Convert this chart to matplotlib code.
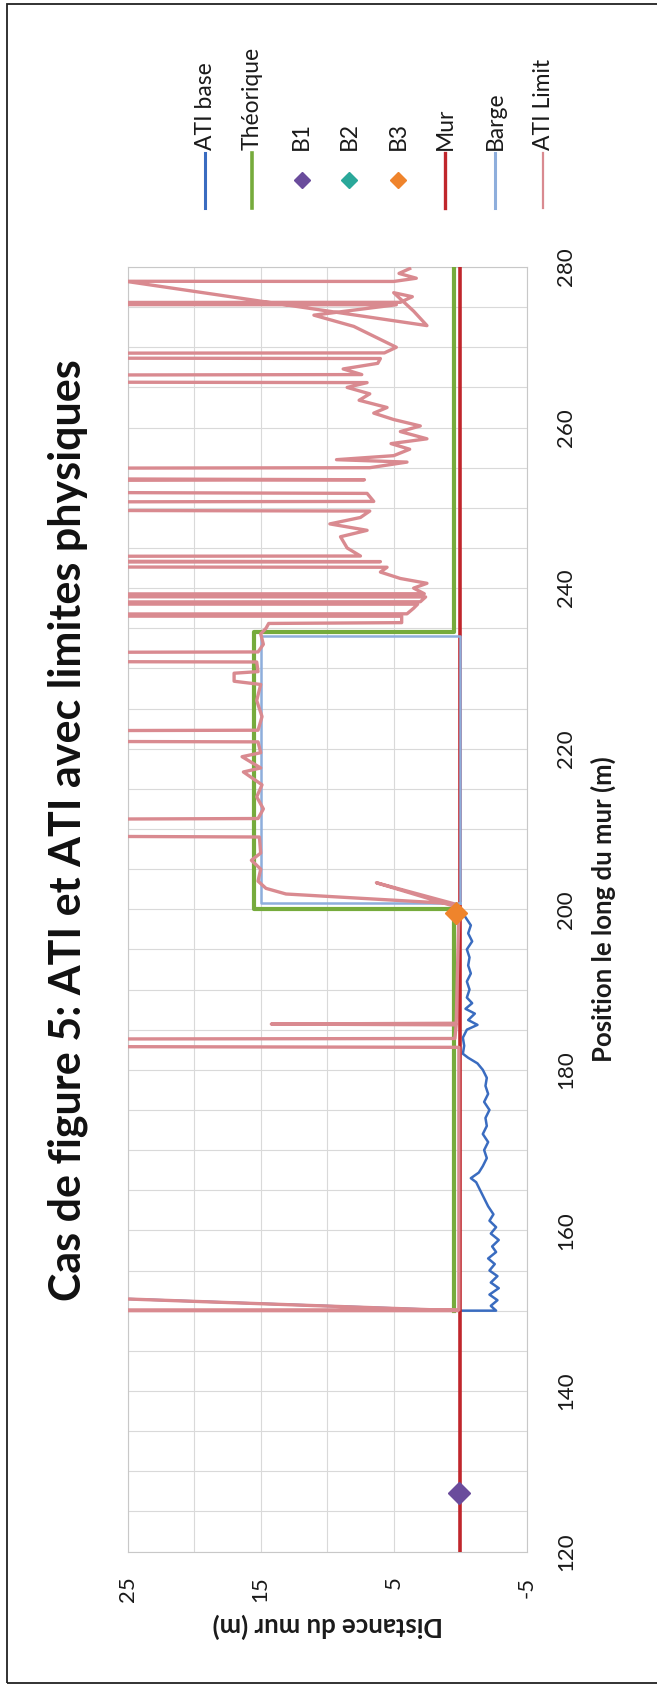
import matplotlib
matplotlib.use('Agg')
import matplotlib.pyplot as plt
from matplotlib.lines import Line2D
from matplotlib.patches import Rectangle
import numpy as np

plt.rcParams['font.family'] = ['Lato', 'DejaVu Sans']

W, H = 657, 1691

# tick labels
D_TICKS = [25, 15, 5, -5]
P_TICKS = [120, 140, 160, 180, 200, 220, 240, 260, 280]

# Mur
P_MUR = [120, 280]
D_MUR = [0, 0]

# Theorique
P_THEO = [150, 200, 200, 234.5, 234.5, 280]
D_THEO = [0.5, 0.5, 15.5, 15.5, 0.5, 0.5]

# Barge outline
P_BARGE = [200.8, 200.8, 234.0, 234.0, 200.8]
D_BARGE = [0, 15, 15, 0, 0]

# points B1, B2, B3
P_B1, D_B1 = [127.3], [0.1]
P_B2, D_B2 = [], []
P_B3, D_B3 = [199.5], [0.3]

# ATI base
P_BASE = [153.5, 150.0, 150.0, 150.6, 151.3, 152.0, 152.8, 153.5, 154.3, 155.0,
          155.8, 156.5, 157.3, 158.0, 158.8, 159.6, 160.4, 161.2, 162.0, 163.0,
          164.0, 165.0, 166.0, 166.5, 167.2, 168.0, 169.0, 170.0, 171.0, 172.0,
          173.0, 174.0, 175.0, 176.0, 177.0, 178.0, 179.0, 180.0, 180.8, 181.5,
          182.0, 183.0, 184.0, 185.0, 185.6, 186.2, 187.0, 187.6, 188.3, 189.0,
          190.0, 191.0, 192.0, 193.0, 194.0, 195.0, 196.0, 197.0, 198.0, 199.0,
          199.5]
D_BASE = [60, 0.0, -2.7, -2.3, -2.8, -2.2, -2.9, -2.3, -2.8, -2.2,
          -2.6, -2.1, -2.7, -2.4, -2.9, -2.3, -2.7, -2.2, -2.5, -2.1,
          -1.8, -1.5, -1.2, -0.8, -1.4, -1.7, -2.0, -1.8, -2.1, -1.7,
          -2.0, -1.9, -2.2, -1.8, -2.1, -1.9, -2.0, -1.7, -1.3, -0.6,
          -0.2, -0.3, -0.2, -0.5, -1.3, -0.6, -1.1, -0.4, -0.9, -0.5,
          -0.7, -0.5, -0.8, -0.6, -0.7, -0.5, -0.9, -0.6, -0.8, -0.4,
          -0.2]

# ATI Limit (200 = value outside physical limits)
P_LIMIT = [153.5, 150.0, 150.0, 150.1, 182.8, 183.45, 183.9, 185.6, 185.7, 185.8,
           199.6, 200.3, 203.3, 200.7, 201.9, 202.6, 203.5, 205.0, 206.1, 207.0,
           209.0, 210.2, 211.3, 212.5, 214.0, 215.5, 217.1, 217.6, 219.0, 219.5,
           220.85, 221.6, 222.3, 224.0, 226.0, 228.0, 228.4, 229.4, 229.6, 230.8,
           231.4, 232.05, 233.0, 234.3, 235.0, 235.6, 235.7, 236.5, 236.6, 236.8,
           237.5, 238.0, 238.1, 238.3, 238.9, 239.1, 239.3, 240.0, 240.6, 241.2,
           242.0, 242.6, 242.85, 243.3, 243.7, 244.0, 245.0, 246.4, 247.2, 248.0,
           248.8, 249.6, 250.3, 250.8, 251.8, 252.8, 253.5, 254.5, 255.0, 255.7,
           256.0, 256.5, 257.3, 258.0, 258.6, 259.5, 260.2, 261.0, 261.8, 262.5,
           263.4, 264.2, 265.0, 265.6, 266.1, 266.6, 267.3, 268.0, 268.6, 269.0,
           269.3, 270.0, 272.6, 274.0, 275.3, 275.45, 275.6, 276.3, 276.8, 274.5,
           272.7, 279.4, 278.4, 278.2, 278.6, 279.2, 279.8]
D_LIMIT = [60, 0.2, 200, 0.1, 0.1, 200, 0.4, 0.3, 14.2, 0.3,
           0.1, 0.3, 6.3, 0.5, 13.1, 14.6, 15.2, 15.0, 15.7, 15.0,
           15.1, 200, 15.2, 14.8, 15.3, 14.9, 16.3, 15.0, 16.4, 15.0,
           15.2, 200, 15.2, 14.9, 15.3, 15.0, 17.0, 17.0, 15.2, 15.3,
           200, 15.2, 14.8, 15.0, 14.6, 14.4, 4.4, 4.4, 200, 4.0,
           3.5, 3.2, 200, 3.0, 2.6, 200, 2.7, 3.5, 2.5, 4.5,
           6.0, 5.5, 200, 6.0, 200, 7.5, 8.5, 9.0, 7.0, 9.8,
           7.5, 6.8, 200, 6.5, 7.0, 200, 7.2, 200, 6.8, 4.0,
           9.3, 5.0, 3.8, 5.2, 2.5, 4.5, 3.0, 5.0, 6.5, 5.5,
           7.6, 6.8, 8.5, 7.0, 200, 7.4, 8.8, 6.2, 6.0, 200,
           5.7, 4.8, 8.0, 11.0, 4.8, 200, 4.5, 3.6, 5.0, 3.5,
           2.5, 30, 200, 5.0, 3.3, 4.6, 3.8]

LEGEND_LABELS = ['ATI base', 'Théorique', 'B1', 'B2', 'B3', 'Mur', 'Barge', 'ATI Limit']

C_BASE = '#3a6cc0'
C_THEO = '#76ab3c'
C_B1 = '#6a4c9c'
C_B2 = '#2aa89a'
C_B3 = '#ef842c'
C_MUR = '#c0262c'
C_BARGE = '#8eaedc'
C_LIMIT = '#d98a90'

fig = plt.figure(figsize=(W / 100, H / 100), dpi=100)
fig.patch.set_facecolor('white')

# axes placed like the rotated excel chart: distance across, position up
ax = fig.add_axes([127.7 / W, 1 - 1551.5 / H, 399.0 / W, 1284.5 / H])

ax.plot(D_BASE, P_BASE, color=C_BASE, lw=1.8, zorder=2)
ax.plot(D_THEO, P_THEO, color=C_THEO, lw=3.0, zorder=3)
ax.plot(D_MUR, P_MUR, color=C_MUR, lw=2.6, zorder=5)
ax.plot(D_BARGE, P_BARGE, color=C_BARGE, lw=1.8, zorder=6)
ax.plot(D_LIMIT, P_LIMIT, color=C_LIMIT, lw=2.4, zorder=7)
ax.plot(D_B1, P_B1, 'D', color=C_B1, ms=11, zorder=8)
ax.plot(D_B2, P_B2, 'D', color=C_B2, ms=11, zorder=8)
ax.plot(D_B3, P_B3, 'D', color=C_B3, ms=11, zorder=8)

ax.set_xlim(25, -5)
ax.set_ylim(120, 280)
ax.set_xticks(D_TICKS)
ax.set_xticks(np.arange(-5, 26, 5), minor=True)
ax.set_yticks(P_TICKS)
ax.set_yticks(np.arange(120, 281, 5), minor=True)
ax.set_xticklabels([str(v) for v in D_TICKS], rotation=90, fontsize=16, color='#1a1a1a')
ax.set_yticklabels([str(v) for v in P_TICKS], rotation=90, fontsize=16, color='#1a1a1a', va='center')
ax.yaxis.tick_right()
ax.tick_params(axis='both', which='both', length=0)
ax.tick_params(axis='x', pad=18)
ax.tick_params(axis='y', pad=21)
ax.grid(True, which='both', color='#d9d9d9', lw=0.8)
ax.set_axisbelow(True)
for s in ax.spines.values():
    s.set_color('#c8c8c8')
    s.set_linewidth(0.8)

# texts
fig.text(68 / W, 1 - 830 / H, 'Cas de figure 5: ATI et ATI avec limites physiques',
         rotation=90, ha='center', va='center', fontsize=31, fontweight='bold', color='#111111')
fig.text(328 / W, 1 - 1626 / H, 'Distance du mur (m)', rotation=180,
         ha='center', va='center', fontsize=18.5, fontweight='bold', color='#1a1a1a')
fig.text(603 / W, 1 - 909 / H, 'Position le long du mur (m)', rotation=90,
         ha='center', va='center', fontsize=18.5, fontweight='bold', color='#1a1a1a')

# legend drawn as a vertical (rotated) column row
leg_x = [205, 251.7, 301.7, 349.3, 398.3, 445, 495, 543.3]
leg_style = [(C_BASE, 2.2, None), (C_THEO, 2.6, None), (C_B1, 0, 'D'), (C_B2, 0, 'D'),
             (C_B3, 0, 'D'), (C_MUR, 2.4, None), (C_BARGE, 2.2, None), (C_LIMIT, 1.6, None)]
for lab, x, (c, lw, mk) in zip(LEGEND_LABELS, leg_x, leg_style):
    xf = x / W
    if mk is None:
        fig.add_artist(Line2D([xf, xf], [1 - 153 / H, 1 - 208 / H], color=c, lw=lw,
                              transform=fig.transFigure))
    else:
        fig.add_artist(Line2D([xf], [1 - 180 / H], marker=mk, color=c, ms=8,
                              transform=fig.transFigure))
    fig.text(xf, 1 - 150 / H, lab, rotation=90, rotation_mode='anchor',
             ha='left', va='center', fontsize=16.5, color='#1a1a1a')

# outer frame
fig.add_artist(Rectangle((7 / W, 1 - 1683 / H), 1.2, (1683 - 4) / H, fill=False,
                         ec='#222222', lw=1.3, transform=fig.transFigure))

fig.savefig('out.png', dpi=100)
